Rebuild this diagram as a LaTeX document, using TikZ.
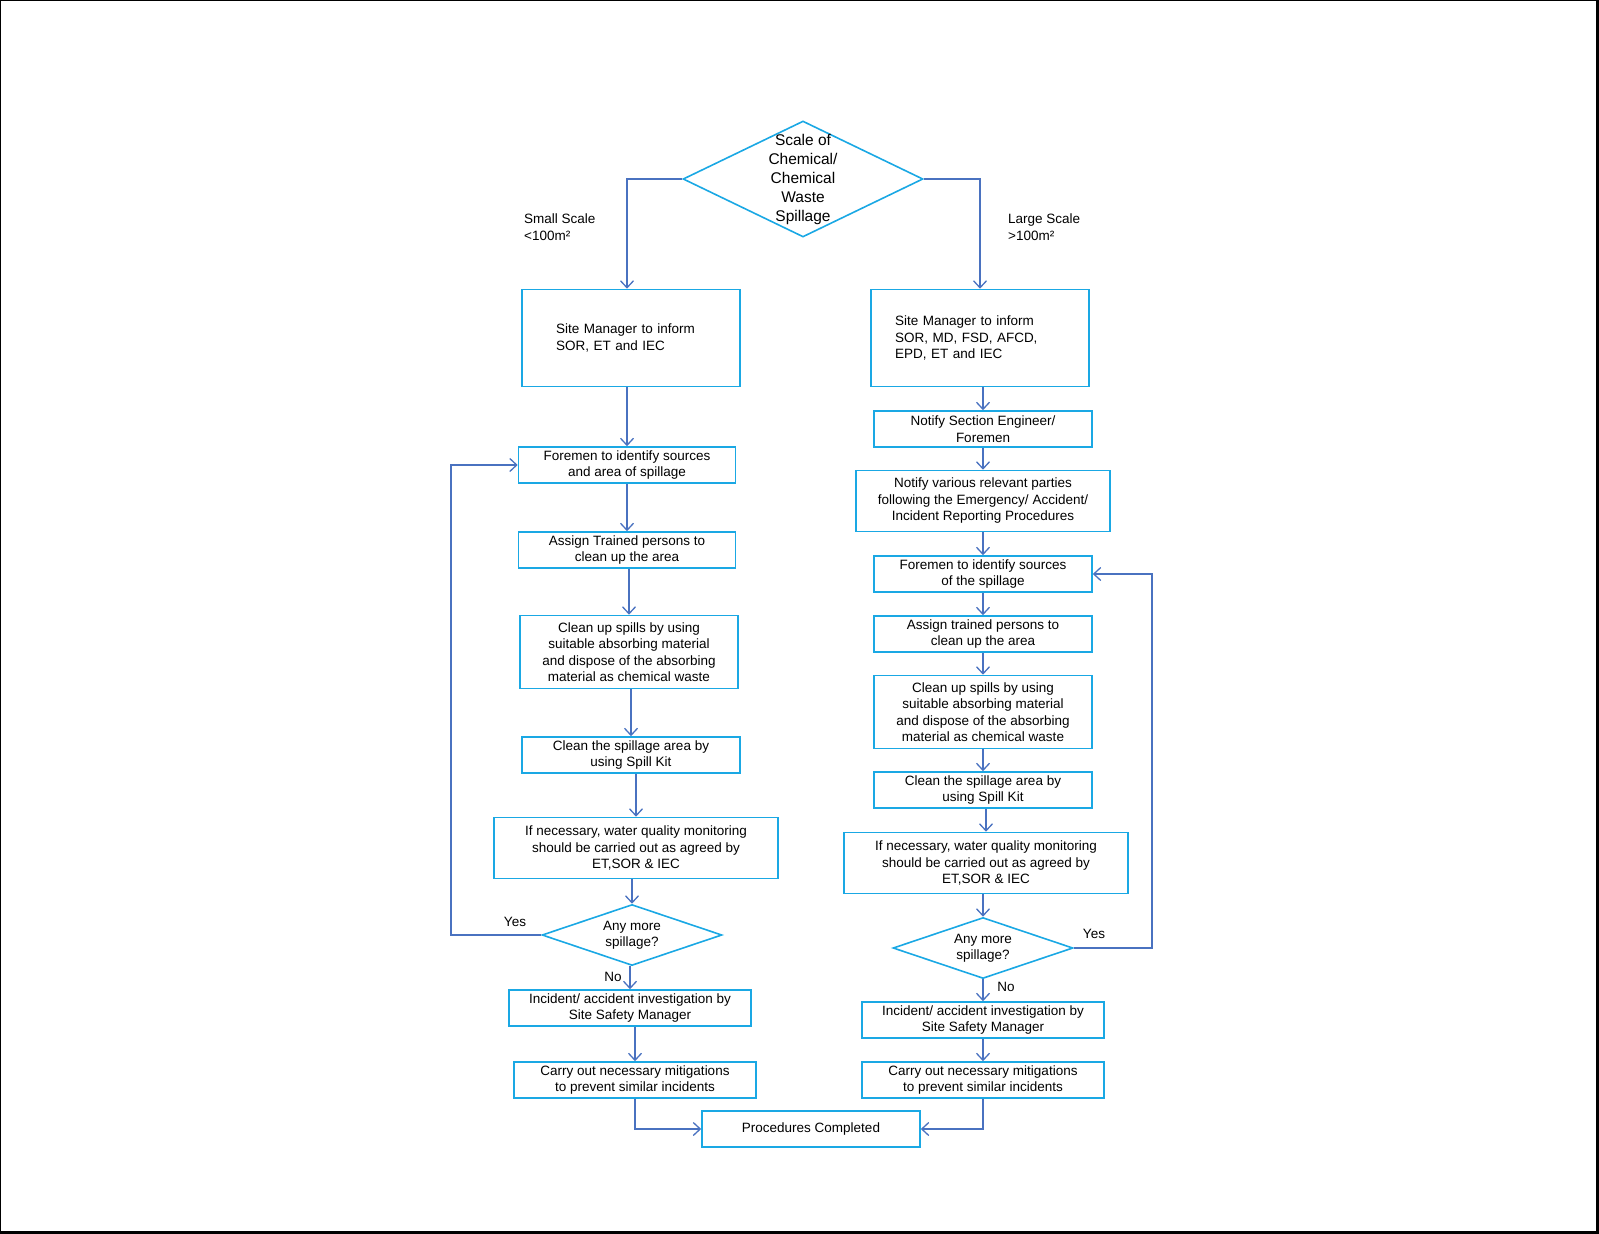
\documentclass[tikz,border=0pt]{standalone}
\usepackage{fontspec}
\setmainfont{Liberation Sans}
\usetikzlibrary{shapes.geometric,arrows.meta}
\begin{document}
\begin{tikzpicture}[x=1pt,y=-1pt,
    box/.style={draw=boxc,line width=1.6pt,minimum height=36pt,align=center,
      inner sep=2pt,font=\fontsize{13.5}{16.5}\selectfont},
    dia/.style={draw=boxc,line width=1.6pt,diamond,aspect=3,inner sep=0pt,align=center,
      font=\fontsize{13.5}{16.5}\selectfont},
    fwd/.style={draw=arrc,line width=1.3pt,-{Straight Barb[length=7pt,width=13pt]}},
    lbl/.style={font=\fontsize{13.5}{16.5}\selectfont,inner sep=0pt}]
    \definecolor{boxc}{RGB}{26,168,228}
    \definecolor{arrc}{RGB}{74,114,192}

    \useasboundingbox (0,0) rectangle (1599,1234);
    \draw[line width=1pt] (0.5,0.5) rectangle (1597,1232);
    \draw[line width=3pt] (1597,0) -- (1597,1232) -- (0,1232);

    % top decision
    \node[dia,minimum width=240pt,minimum height=116pt] (scale) at (803,179) {};
    \node[align=center,inner sep=0pt,font=\fontsize{15.5}{19}\selectfont] (scaletxt) at (803,179)
        {Scale of\\Chemical/\\Chemical\\Waste\\Spillage};

    % small scale branch
    \node[box,minimum width=218pt,minimum height=97pt,align=left,text width=150pt] (sinform) at (631,338)
        {Site Manager to inform\\SOR, ET and IEC};
    \node[box,minimum width=217pt] (sident) at (627,465) {Foremen to identify sources\\and area of spillage};
    \node[box,minimum width=217pt] (sassign) at (627,550) {Assign Trained persons to\\clean up the area};
    \node[box,minimum width=218pt,minimum height=73pt] (sclean) at (629,652)
        {Clean up spills by using\\suitable absorbing material\\and dispose of the absorbing\\material as chemical waste};
    \node[box,minimum width=218pt] (skit) at (631,755) {Clean the spillage area by\\using Spill Kit};
    \node[box,minimum width=284pt,minimum height=61pt] (swater) at (636,848)
        {If necessary, water quality monitoring\\should be carried out as agreed by\\ET,SOR \& IEC};
    \node[dia,minimum width=180pt,minimum height=61pt] (smore) at (632,935) {Any more\\spillage?};
    \node[box,minimum width=242pt] (sinv) at (630,1008) {Incident/ accident investigation by\\Site Safety Manager};
    \node[box,minimum width=242pt] (smit) at (635,1080) {Carry out necessary mitigations\\to prevent similar incidents};

    % large scale branch
    \node[box,minimum width=218pt,minimum height=97pt,align=left,text width=170pt] (linform) at (980,338)
        {Site Manager to inform\\SOR, MD, FSD, AFCD,\\EPD, ET and IEC};
    \node[box,minimum width=218pt] (lnotify) at (983,429) {Notify Section Engineer/\\Foremen};
    \node[box,minimum width=254pt,minimum height=61pt] (lparty) at (983,501)
        {Notify various relevant parties\\following the Emergency/ Accident/\\Incident Reporting Procedures};
    \node[box,minimum width=218pt] (lident) at (983,574) {Foremen to identify sources\\of the spillage};
    \node[box,minimum width=218pt] (lassign) at (983,634) {Assign trained persons to\\clean up the area};
    \node[box,minimum width=218pt,minimum height=73pt] (lclean) at (983,712)
        {Clean up spills by using\\suitable absorbing material\\and dispose of the absorbing\\material as chemical waste};
    \node[box,minimum width=218pt] (lkit) at (983,790) {Clean the spillage area by\\using Spill Kit};
    \node[box,minimum width=284pt,minimum height=61pt] (lwater) at (986,863)
        {If necessary, water quality monitoring\\should be carried out as agreed by\\ET,SOR \& IEC};
    \node[dia,minimum width=180pt,minimum height=61pt] (lmore) at (983,948) {Any more\\spillage?};
    \node[box,minimum width=242pt] (linv) at (983,1020) {Incident/ accident investigation by\\Site Safety Manager};
    \node[box,minimum width=242pt] (lmit) at (983,1080) {Carry out necessary mitigations\\to prevent similar incidents};

    \node[box,minimum width=218pt] (done) at (811,1129) {Procedures Completed};

    % labels
    \node[lbl,align=left,anchor=north west] (small) at (524,214) {Small Scale\\<100m²};
    \node[lbl,align=left,anchor=north west] (large) at (1008,214) {Large Scale\\>100m²};
    \node[lbl] (syes) at (515,922) {Yes};
    \node[lbl] (sno) at (613,977) {No};
    \node[lbl] (lyes) at (1094,934) {Yes};
    \node[lbl] (lno) at (1006,987) {No};

    \coordinate (sloop) at (451,935);
    \coordinate (lloop) at (1152,948);

    \draw [fwd] (scale.west) -| (sinform.north -| sident.north);
    \draw [fwd] (scale.east) -| (linform.north);

    \foreach \a/\b in {sinform/sident,sident/sassign,sassign/sclean,sclean/skit,skit/swater,
        swater/smore,smore/sinv,sinv/smit,linform/lnotify,lnotify/lparty,lparty/lident,
        lident/lassign,lassign/lclean,lclean/lkit,lkit/lwater,lwater/lmore,lmore/linv,linv/lmit}
        \draw [fwd] (\a.south -| \b.north) -- (\b.north);

    \draw [fwd] (smore.west) -- (sloop) |- (sident.west);
    \draw [fwd] (lmore.east) -- (lloop) |- (lident.east);
    \draw [fwd] (smit.south) |- (done.west);
    \draw [fwd] (lmit.south) |- (done.east);
\end{tikzpicture}
\end{document}
